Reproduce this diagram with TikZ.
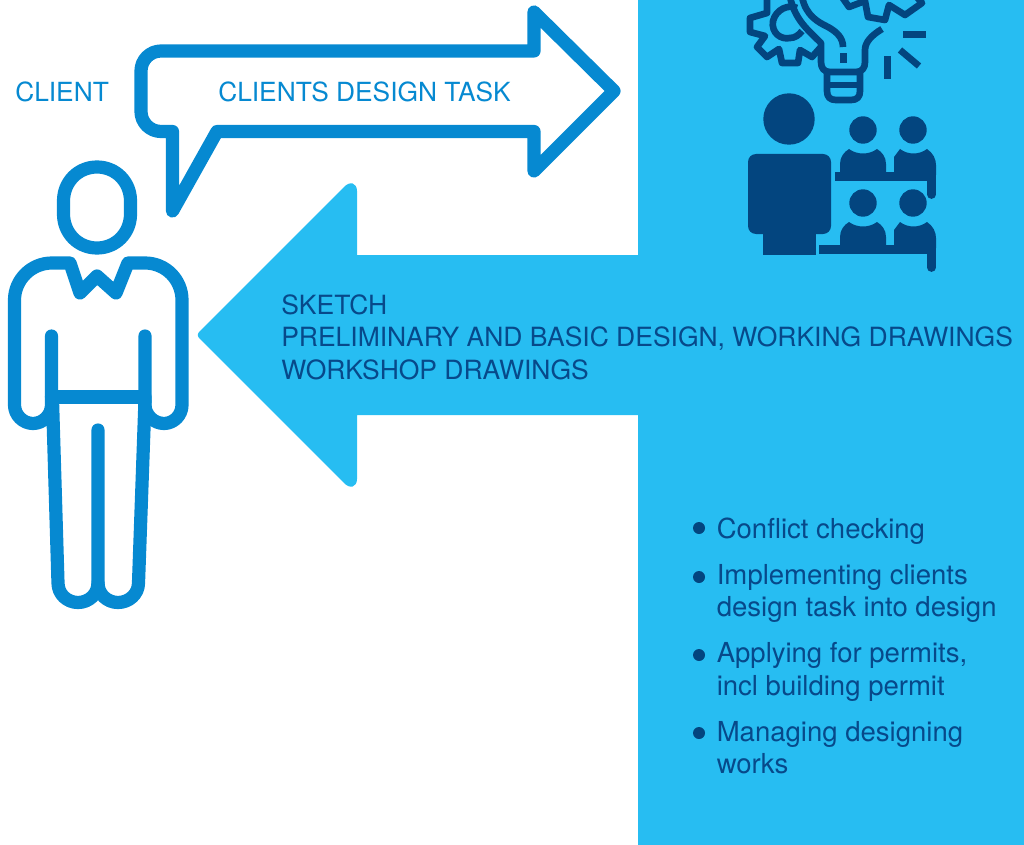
\documentclass[tikz,border=0pt]{standalone}
\usepackage{fontspec}
\setmainfont{TeX Gyre Heros}
\definecolor{panelblue}{HTML}{27BDF2}
\definecolor{clientblue}{HTML}{0689D1}
\definecolor{darkblue}{HTML}{03457F}
\definecolor{textblue}{HTML}{07498A}

\begin{document}
\begin{tikzpicture}
[
x=0.75pt, y=-0.75pt,
clientline/.style={draw=clientblue, line width=9.9pt, line join=round, line cap=round},
iconline/.style={draw=darkblue, line width=5pt, line join=round},
iconfill/.style={fill=darkblue, draw=none},
label/.style={anchor=base west, inner sep=0pt, align=left, font=\fontsize{20.65}{24.4}\selectfont},
caps/.style={anchor=base west, inner sep=0pt, align=left, font=\fontsize{19.75}{24.4}\selectfont},
capsdark/.style={anchor=base west, inner sep=0pt, align=left, font=\fontsize{19.86}{24.4}\selectfont},
bullet/.style={circle, fill=darkblue, inner sep=0pt, minimum size=9pt}]

	\useasboundingbox (0,0) rectangle (1024,845);

	% panel and big arrow
	\fill[panelblue] (638,0) rectangle (1024,845);
	\fill[panelblue] (640,255) -- (357,255) -- (357,191) .. controls (357,183) and (350,180) .. (343,188)
		-- (200,331) .. controls (197,334) and (197,336) .. (200,339)
		-- (343,482) .. controls (350,490) and (357,487) .. (357,479) -- (357,415) -- (640,415) -- cycle;

	% speech arrow
	\draw[clientline] (534,51) -- (534,12) -- (614,91) -- (534,171) -- (534,131.5) -- (217,131.5) -- (172.5,211) -- (172.5,131.5) -- (161,131.5)
		.. controls (150,131.5) and (141,122.5) .. (141,111.5) -- (141,71)
		.. controls (141,60) and (150,51) .. (161,51) -- cycle;

	% client figure
	\draw[clientline] (97,167) .. controls (78,167) and (63.5,182) .. (63.5,201) -- (63.5,214)
		.. controls (63.5,233) and (78,248) .. (97,248)
		.. controls (116,248) and (130.5,233) .. (130.5,214) -- (130.5,201)
		.. controls (130.5,182) and (116,167) .. (97,167) -- cycle;
	\draw[clientline] (51.5,336) -- (51.5,405) .. controls (51.5,415) and (43,423.5) .. (33,423.5)
		.. controls (23,423.5) and (14.5,415) .. (14.5,405) -- (14.5,300)
		.. controls (14.5,280) and (31,263) .. (52,263) -- (70,263) -- (80,293) -- (97,276) -- (116,293) -- (128,263) -- (145,263)
		.. controls (166,263) and (182,280) .. (182,300) -- (182,405)
		.. controls (182,415) and (174,423.5) .. (164,423.5)
		.. controls (154,423.5) and (145,415) .. (145,405) -- (145,336);
	\draw[clientline] (51.5,397) -- (145,397);
	\draw[clientline] (52.5,400) -- (58,583) .. controls (58,594) and (67,602.5) .. (78,602.5)
		.. controls (89,602.5) and (98,594) .. (98,583) -- (98,430);
	\draw[clientline] (98,583) .. controls (98,594) and (107,602.5) .. (118,602.5)
		.. controls (129,602.5) and (138.5,594) .. (138.5,583) -- (145,400);

	% lamp and gears
	\draw[iconline] (767,-6) -- (767,13) -- (750,18) -- (750,32) -- (765,36) -- (757,47) -- (767,57) -- (779,49) -- (782,63) -- (798,63) -- (800,50) -- (812,57) -- (820,48);
	\draw[iconline] (797,8) .. controls (789,4) and (776,9) .. (773,21) .. controls (771,33) and (781,40) .. (790,38) .. controls (795,38) and (799,35) .. (802,31);
	\draw[iconline] (842,-3) -- (849,7) -- (865,1) -- (868,17) -- (885,20) -- (889,5) -- (905,15) -- (922,3) -- (915,-5);
	\draw[iconline] (790,-3) .. controls (795,20) and (808,30) .. (821,43) -- (821,62)
		.. controls (821,68) and (824,72) .. (830,72) -- (856,72) .. controls (862,72) and (865,68) .. (865,62) -- (865,50)
		.. controls (865,42) and (872,35) .. (882,29);
	\draw[iconline] (802,-3) .. controls (806,16) and (818,22) .. (828,27) .. controls (837,32) and (843,38) .. (843,47);
	\fill[darkblue] (840,53) rectangle (847,63);
	\draw[iconline] (827,72) -- (827,91) .. controls (827,97) and (830,100) .. (836,100) -- (851,100) .. controls (857,100) and (860,97) .. (860,91) -- (860,72);
	\draw[iconline] (827,85) -- (860,85);
	\fill[darkblue] (884,56) rectangle (891,79);
	\fill[darkblue] (903,31) rectangle (926,38);
	\draw[iconline] (900,50) -- (919,66);

	% teacher
	\fill[darkblue] (789,119) circle (25.7);
	\fill[iconfill, rounded corners=6pt] (748,154) rectangle (831,234);
	\fill[darkblue] (763,225) rectangle (816,255);

	% two rows of desks
	\foreach \rowy/\deskx in {0/835,73/819}{
		\begin{scope}[yshift=-\rowy*0.75pt]
		\fill[darkblue] (863,130) circle (13.7);
		\fill[darkblue] (913,130) circle (13.7);
		\fill[darkblue] (840,175) -- (840,164) .. controls (840,157) and (844,152) .. (849,149)
			.. controls (857,155) and (869,155) .. (877,149) .. controls (882,152) and (886,157) .. (886,164) -- (886,175) -- cycle;
		\fill[darkblue] (894,175) -- (894,157) -- (900,149) .. controls (908,155) and (919,155) .. (927,149)
			.. controls (933,153) and (936,159) .. (936,165) -- (936,175) -- cycle;
		\fill[darkblue] (\deskx,172) rectangle (936,181);
		\draw[darkblue, line width=6.6pt, line cap=round] (931.5,175) -- (931.5,194.5);
		\end{scope}
	}

	% labels
	\node (client) at (15,101.5) [caps, text=clientblue]{CLIENT};
	\node (task) at (218,101.5) [caps, text=clientblue]{CLIENTS DESIGN TASK};
	\node (sketch) at (281,314) [capsdark, text=textblue]{SKETCH};
	\node (prelim) at (281,346) [capsdark, text=textblue]{PRELIMINARY AND BASIC DESIGN, WORKING DRAWINGS};
	\node (workshop) at (281,379) [capsdark, text=textblue]{WORKSHOP DRAWINGS};

	% list
	\node (bconflict) at (699,528) [bullet]{};
	\node (bimpl) at (699,577) [bullet]{};
	\node (bapply) at (699,655) [bullet]{};
	\node (bmanage) at (699,733) [bullet]{};
	\node (conflict) at (716.5,538) [label, text=textblue]{Conflict checking};
	\node (implA) at (716.5,584) [label, text=textblue]{Implementing clients};
	\node (implB) at (716.5,616) [label, text=textblue]{design task into design};
	\node (applyA) at (716.5,662) [label, text=textblue]{Applying for permits,};
	\node (applyB) at (716.5,695) [label, text=textblue]{incl building permit};
	\node (manageA) at (716.5,741) [label, text=textblue]{Managing designing};
	\node (manageB) at (716.5,773) [label, text=textblue]{works};

\end{tikzpicture}
\end{document}
